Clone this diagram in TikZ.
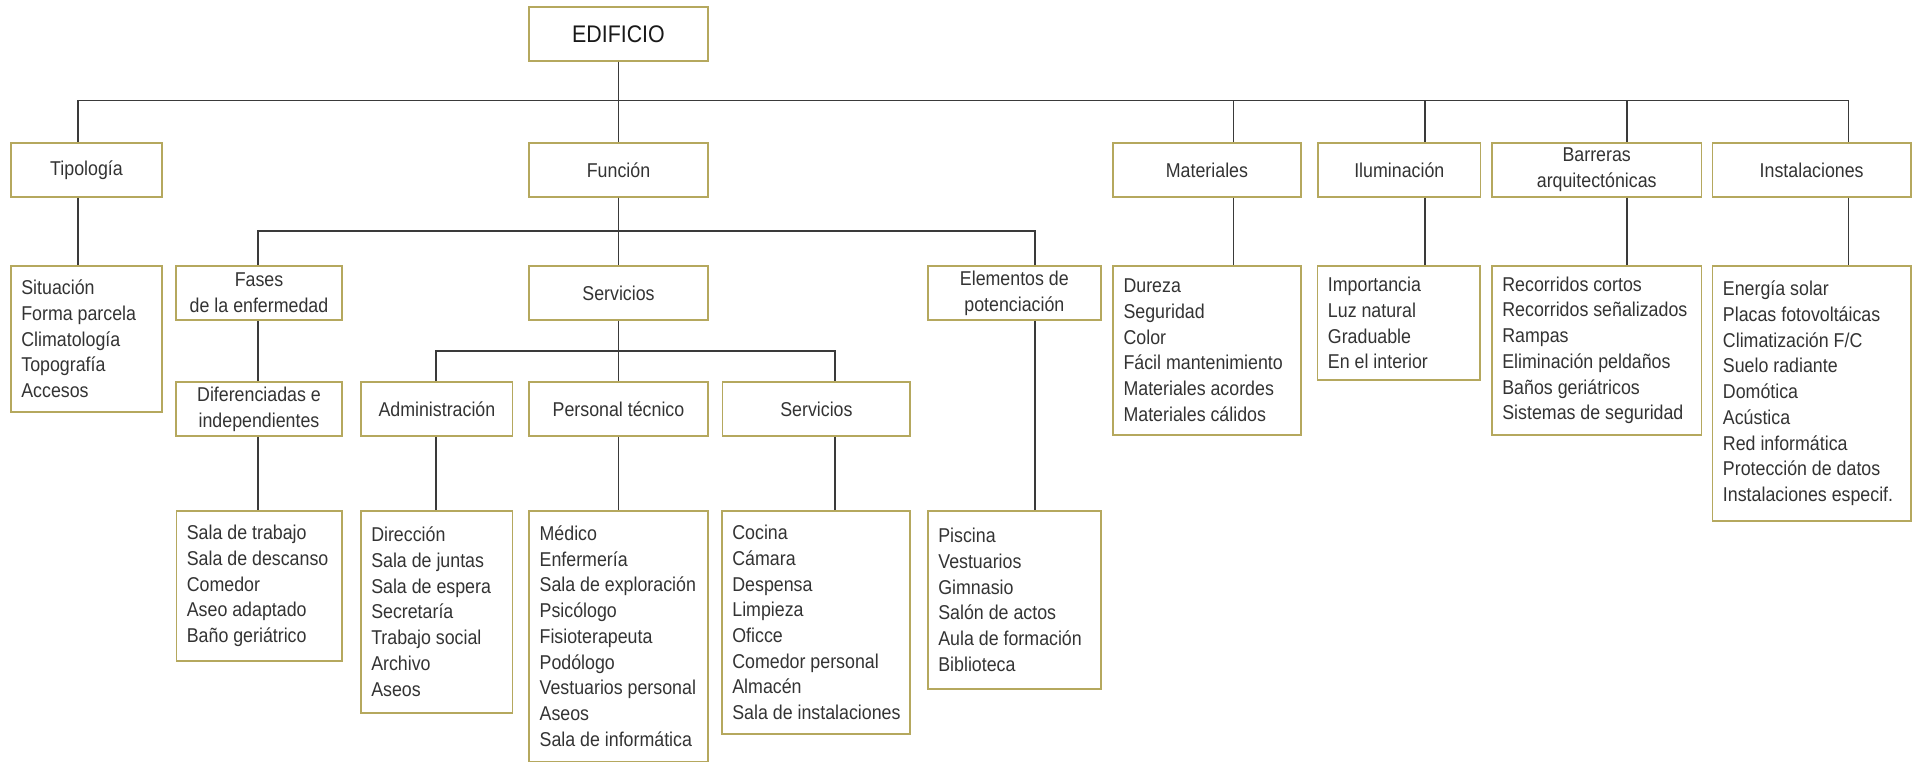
\documentclass[tikz,border=0pt]{standalone}
\usepackage{fontspec}
\setmainfont[FakeStretch=0.89]{Liberation Sans}
\usetikzlibrary{calc}
\definecolor{gold}{HTML}{B5A85E}
\definecolor{ink}{HTML}{333333}
\definecolor{wire}{HTML}{3A3A3A}
\tikzset{
  box/.style={draw=gold, line width=1.7pt, rectangle, inner sep=0pt, text=ink, align=center,
    font=\fontsize{20}{25.7}\selectfont},
  lst/.style={anchor=west, inner sep=0pt, text=ink, align=left, font=\fontsize{20}{25.7}\selectfont},
  conn/.style={draw=wire, line width=1.7pt},
}
% name, x1, y1, x2, y2, text
\newcommand\mkbox[6]{\node[box, minimum width={(#4-#2)*1pt}, minimum height={(#5-#3)*1pt}] (#1) at ({(#2+#4)/2},{(#3+#5)/2}) {#6};}
\begin{document}
\begin{tikzpicture}[x=1pt,y=-1pt]
\useasboundingbox (0,0) rectangle (1917,763);

% level 0
\mkbox{ed}{529.3}{6.7}{707.7}{61}{\fontsize{24}{28}\selectfont\color{black!90}EDIFICIO}
% level 1
\mkbox{tipo}{11}{143.3}{162}{196.7}{Tipología}
\mkbox{func}{529.3}{143.3}{707.7}{196.7}{Función}
\mkbox{mat}{1113.2}{143.3}{1300.7}{196.7}{Materiales}
\mkbox{ilu}{1318}{143.3}{1480.6}{196.7}{Iluminación}
\mkbox{bar}{1492}{143.3}{1701.4}{196.7}{Barreras\\arquitectónicas}
\mkbox{ins}{1712.6}{143.3}{1910.7}{196.7}{Instalaciones}
% level 2
\mkbox{sit}{11}{266}{162}{412}{}
\mkbox{fases}{176.3}{266}{341.7}{320}{Fases\\de la enfermedad}
\mkbox{serv}{529.3}{266}{707.7}{320}{Servicios}
\mkbox{elem}{928}{266}{1100.7}{320}{Elementos de\\potenciación}
\mkbox{dur}{1113.2}{266}{1300.7}{434.7}{}
\mkbox{imp}{1317.6}{266}{1479.8}{380}{}
\mkbox{rec}{1492}{266}{1701.4}{434.7}{}
\mkbox{ene}{1712.6}{266}{1910.7}{520.7}{}
% level 3
\mkbox{dif}{176.3}{382}{341.7}{436}{Diferenciadas e\\independientes}
\mkbox{adm}{361.3}{382}{512.5}{436}{Administración}
\mkbox{per}{529.3}{382}{707.7}{436}{Personal técnico}
\mkbox{ser2}{722.5}{382}{910.3}{436}{Servicios}
% level 4
\mkbox{sal}{176.5}{510.7}{342}{661}{}
\mkbox{dir}{360.9}{510.7}{512.6}{712.7}{}
\mkbox{med}{529.3}{510.7}{707.7}{761.5}{}
\mkbox{coc}{722}{510.7}{910.3}{734.3}{}
\mkbox{pis}{928}{510.7}{1100.7}{688.7}{}

% list texts
\node[lst] (sit-t) at ([xshift=11pt]sit.west) {Situación\\Forma parcela\\Climatología\\Topografía\\Accesos};
\node[lst] (dur-t) at ([xshift=11pt]dur.west) {Dureza\\Seguridad\\Color\\Fácil mantenimiento\\Materiales acordes\\Materiales cálidos};
\node[lst] (imp-t) at ([xshift=11pt]imp.west) {Importancia\\Luz natural\\Graduable\\En el interior};
\node[lst] (rec-t) at ([xshift=11pt]rec.west) {Recorridos cortos\\Recorridos señalizados\\Rampas\\Eliminación peldaños\\Baños geriátricos\\Sistemas de seguridad};
\node[lst] (ene-t) at ([xshift=11pt]ene.west) {Energía solar\\Placas fotovoltáicas\\Climatización F/C\\Suelo radiante\\Domótica\\Acústica\\Red informática\\Protección de datos\\Instalaciones especif.};
\node[lst] (sal-t) at ([xshift=11pt]sal.west) {Sala de trabajo\\Sala de descanso\\Comedor\\Aseo adaptado\\Baño geriátrico};
\node[lst] (dir-t) at ([xshift=11pt]dir.west) {Dirección\\Sala de juntas\\Sala de espera\\Secretaría\\Trabajo social\\Archivo\\Aseos};
\node[lst] (med-t) at ([xshift=11pt]med.west) {Médico\\Enfermería\\Sala de exploración\\Psicólogo\\Fisioterapeuta\\Podólogo\\Vestuarios personal\\Aseos\\Sala de informática};
\node[lst] (coc-t) at ([xshift=11pt]coc.west) {Cocina\\Cámara\\Despensa\\Limpieza\\Oficce\\Comedor personal\\Almacén\\Sala de instalaciones};
\node[lst] (pis-t) at ([xshift=11pt]pis.west) {Piscina\\Vestuarios\\Gimnasio\\Salón de actos\\Aula de formación\\Biblioteca};

% connector columns and bus levels
\coordinate (xTipo) at (77.8,0);
\coordinate (xMat) at (1233.5,0);
\coordinate (xIlu) at (1424.7,0);
\coordinate (xBar) at (1627.2,0);
\coordinate (xIns) at (1848.4,0);
\coordinate (xFas) at (257.8,0);
\coordinate (xEle) at (1034.7,0);
\coordinate (xAdm) at (436,0);
\coordinate (xSer) at (834.7,0);
\coordinate (b1) at (0,100.5);
\coordinate (b2) at (0,231);
\coordinate (b3) at (0,350.7);

% level 1 connectors
\draw[conn] (ed.south) |- (b1 -| xTipo) -- (tipo.north -| xTipo);
\draw[conn] (ed.south) -- (func.north);
\draw[conn] (ed.south) |- (b1 -| xMat) -- (mat.north -| xMat);
\draw[conn] (ed.south) |- (b1 -| xIlu) -- (ilu.north -| xIlu);
\draw[conn] (ed.south) |- (b1 -| xBar) -- (bar.north -| xBar);
\draw[conn] (ed.south) |- (b1 -| xIns) -- (ins.north -| xIns);
\draw[conn] (tipo.south -| xTipo) -- (sit.north -| xTipo);
\draw[conn] (mat.south -| xMat) -- (dur.north -| xMat);
\draw[conn] (ilu.south -| xIlu) -- (imp.north -| xIlu);
\draw[conn] (bar.south -| xBar) -- (rec.north -| xBar);
\draw[conn] (ins.south -| xIns) -- (ene.north -| xIns);
% level 2 connectors
\draw[conn] (func.south) |- (b2 -| xFas) -- (fases.north -| xFas);
\draw[conn] (func.south) -- (serv.north);
\draw[conn] (func.south) |- (b2 -| xEle) -- (elem.north -| xEle);
\draw[conn] (fases.south -| xFas) -- (dif.north -| xFas);
\draw[conn] (dif.south -| xFas) -- (sal.north -| xFas);
\draw[conn] (elem.south -| xEle) -- (pis.north -| xEle);
% level 3 connectors
\draw[conn] (serv.south) |- (b3 -| xAdm) -- (adm.north -| xAdm);
\draw[conn] (serv.south) -- (per.north);
\draw[conn] (serv.south) |- (b3 -| xSer) -- (ser2.north -| xSer);
\draw[conn] (adm.south -| xAdm) -- (dir.north -| xAdm);
\draw[conn] (per.south) -- (med.north);
\draw[conn] (ser2.south -| xSer) -- (coc.north -| xSer);
\end{tikzpicture}
\end{document}
